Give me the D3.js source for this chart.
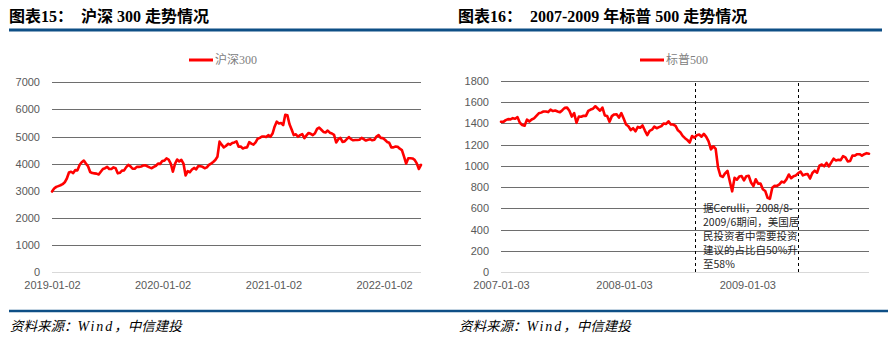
<!DOCTYPE html>
<html><head><meta charset="utf-8">
<script src="https://cdn.jsdelivr.net/npm/d3@7/dist/d3.min.js"></script>
<style>body{margin:0;background:#fff} svg{display:block}</style>
</head><body>
<svg id="c" width="893" height="343"></svg>
<script>
// ---------- DATA ----------
// 沪深300, weekly closes starting 2019-01-02
const csiStart = "2019-01-02";
const csiValues = [
  // 2019
  2970, 3080, 3140, 3170, 3200,
  3240, 3310, 3450, 3670,
  3700, 3650, 3760, 3750,
  3950, 4050, 4110, 4000,
  3900, 3690, 3650, 3640, 3630,
  3600, 3700, 3800, 3830,
  3880, 3800, 3800, 3860, 3830,
  3640, 3660, 3740, 3750,
  3870, 3950, 3900, 3810,
  3810, 3880, 3880, 3890, 3930,
  3940, 3900, 3860, 3830,
  3880, 3920, 4000, 3990,
  // 2020
  4096, 4110, 4190, 4150, 4003,
  3700, 3990, 4150, 4080,
  4140, 4000, 3560, 3720,
  3680, 3780, 3840, 3790, 3910,
  3900, 3880, 3830, 3860,
  3950, 4000, 4060, 4130,
  4250, 4810, 4700, 4600, 4650,
  4730, 4700, 4760, 4780,
  4820, 4620, 4630, 4560, 4590,
  4600, 4790, 4740, 4700,
  4780, 4920, 4950, 5000,
  5000, 4980, 5050, 4990, 5110,
  // 2021
  5370, 5550, 5480, 5500,
  5420, 5800, 5780, 5450,
  5260, 5050, 5080, 4990, 5050,
  5090, 4940, 5040, 5130,
  5100, 5050, 5120, 5280,
  5330, 5250, 5170, 5150, 5220,
  5140, 5110, 5060, 4780,
  4900, 4950, 4800, 4820,
  4900, 4980, 4900, 4860, 4870,
  4870, 4880, 4950, 4900,
  4850, 4880, 4900, 4860,
  4880, 5000, 5050, 4950, 4940,
  // 2022
  4880, 4800, 4770, 4600,
  4600, 4630, 4620, 4550,
  4500, 4260, 4000, 4200, 4200,
  4190, 4140, 4010, 3800,
  3950
];
const csiXTicks = ["2019-01-02", "2020-01-02", "2021-01-02", "2022-01-02"];
const csiYTicks = [0, 1000, 2000, 3000, 4000, 5000, 6000, 7000];

// 标普500, weekly closes starting 2007-01-03
const spxStart = "2007-01-03";
const spxValues = [
  // 2007
  1416, 1415, 1431, 1441, 1438,
  1450, 1444, 1459, 1407,
  1385, 1378, 1436, 1418,
  1437, 1448, 1472, 1495,
  1502, 1512, 1513, 1507, 1530,
  1517, 1522, 1513, 1505,
  1525, 1547, 1549, 1519,
  1465, 1497, 1406, 1464, 1463,
  1473, 1471, 1518, 1531,
  1539, 1562, 1541, 1520, 1549,
  1475, 1470, 1417, 1469,
  1485, 1486, 1455, 1497,
  // 2008
  1447, 1390, 1374, 1338, 1355,
  1326, 1367, 1360, 1381,
  1333, 1290, 1330, 1341,
  1370, 1355, 1365, 1375, 1400,
  1395, 1420, 1390, 1390,
  1377, 1335, 1317, 1283,
  1261, 1244, 1220, 1282, 1267,
  1289, 1295, 1275, 1301,
  1274, 1232, 1156, 1185,
  1161, 985, 907, 896, 930,
  953, 853, 760, 887,
  870, 899, 904, 863, 903,
  // 2009
  907, 843, 810, 874,
  833, 833, 780, 764,
  700, 690, 794, 813,
  811, 826, 852, 843, 873,
  919, 884, 903, 910,
  932, 945, 910, 920,
  923, 881, 933, 955, 936,
  1002, 1013, 996, 1028,
  995, 1033, 1068, 1051, 1057,
  1054, 1092, 1081, 1042,
  1046, 1098, 1096, 1110,
  1110, 1096, 1110, 1120, 1115
];
const spxXTicks = ["2007-01-03", "2008-01-03", "2009-01-03"];
const spxYTicks = [0, 200, 400, 600, 800, 1000, 1200, 1400, 1600, 1800];
const spxMarkers = ["2008-08-01", "2009-06-01"];
const noteLines = ["据Cerulli，2008/8-", "2009/6期间，美国居", "民投资者中需要投资", "建议的占比自50%升", "至58%"];

const titles = ["图表15：  沪深 300 走势情况", "图表16：  2007-2009 年标普 500 走势情况"];
const legends = ["沪深300", "标普500"];
const sourceParts = ["资料来源：", "Wind", "，中信建投"];

// ---------- DRAW ----------
const svg = d3.select("#c");
const parse = d3.utcParse("%Y-%m-%d");
const fmt = d3.utcFormat("%Y-%m-%d");
const RED = "#ff0000";
const BLUE = "#0e4f86";

function toSeries(start, values) {
  const s = parse(start);
  return values.map((v, i) => ({ date: d3.utcDay.offset(s, 7 * i), v }));
}

function chart(o) {
  const data = toSeries(o.start, o.values);
  const x = d3.scaleUtc().domain(d3.extent(data, d => d.date)).range([o.x0, o.x1]);
  const y = d3.scaleLinear().domain([0, d3.max(o.yTicks)]).range([o.yBottom, o.yTop]);
  const g = svg.append("g");

  // gridlines
  g.selectAll("line.grid").data(o.yTicks).join("line")
    .attr("x1", o.x0).attr("x2", o.x1)
    .attr("y1", d => Math.round(y(d)) + 0.5).attr("y2", d => Math.round(y(d)) + 0.5)
    .attr("stroke", d => d === 0 ? "#d9d9d9" : "#6e6e6e").attr("stroke-width", 1);

  // y axis
  const ya = g.append("g").attr("transform", `translate(${o.x0},0)`)
    .call(d3.axisLeft(y).tickValues(o.yTicks).tickSize(0).tickPadding(12).tickFormat(d3.format("d")));
  ya.select(".domain").remove();
  ya.selectAll("text").attr("fill", "#595959").style("font-family", "Liberation Sans, Arial, sans-serif").style("font-size", "11px");

  // x axis
  const xa = g.append("g").attr("transform", `translate(0,${o.yBottom})`)
    .call(d3.axisBottom(x).tickValues(o.xTicks.map(parse)).tickSize(0).tickPadding(9).tickFormat(fmt));
  xa.select(".domain").remove();
  xa.selectAll("text").attr("fill", "#595959").style("font-family", "Liberation Sans, Arial, sans-serif").style("font-size", "11px");

  // markers
  if (o.markers) {
    g.selectAll("line.mk").data(o.markers.map(parse)).join("line")
      .attr("x1", d => Math.round(x(d)) + 0.5).attr("x2", d => Math.round(x(d)) + 0.5)
      .attr("y1", o.markerTop).attr("y2", o.yBottom)
      .attr("stroke", "#000").attr("stroke-width", 1).attr("stroke-dasharray", "3,3");
  }

  // line
  g.append("path").datum(data)
    .attr("fill", "none").attr("stroke", RED).attr("stroke-width", 2.6)
    .attr("stroke-linejoin", "round").attr("stroke-linecap", "round")
    .attr("d", d3.line().x(d => x(d.date)).y(d => y(d.v)));

  // legend
  g.append("line").attr("x1", o.legX).attr("x2", o.legX + 24).attr("y1", 60).attr("y2", 60)
    .attr("stroke", RED).attr("stroke-width", 3);
  g.append("text").attr("x", o.legX + 26).attr("y", 60).attr("dy", "0.35em")
    .attr("fill", "#808080").style("font-family", "Liberation Serif, Noto Sans CJK SC, serif").style("font-size", "12px")
    .text(o.legend);

  // title
  svg.append("text").attr("x", o.titleX).attr("y", 21.5)
    .attr("fill", "#000").style("font-family", "Liberation Serif, Noto Sans CJK SC, serif")
    .style("font-size", "16px").style("font-weight", "bold").style("white-space", "pre")
    .attr("xml:space", "preserve").text(o.title);

  // source
  const st = svg.append("text").attr("x", o.titleX + 1).attr("y", 331)
    .attr("fill", "#000").style("font-size", "13.5px").style("font-style", "italic");
  st.append("tspan").style("font-family", "Noto Sans CJK SC, sans-serif").text(sourceParts[0]);
  st.append("tspan").style("font-family", "Liberation Serif, serif").style("letter-spacing", "2px").style("font-size", "14px").text(sourceParts[1]);
  st.append("tspan").style("font-family", "Noto Sans CJK SC, sans-serif").text(sourceParts[2]);

  return { x, y, g };
}

chart({ start: csiStart, values: csiValues, xTicks: csiXTicks, yTicks: csiYTicks,
  x0: 52, x1: 421, yTop: 82.3, yBottom: 272, legX: 189, legend: legends[0], title: titles[0], titleX: 9 });

const r = chart({ start: spxStart, values: spxValues, xTicks: spxXTicks, yTicks: spxYTicks,
  x0: 501, x1: 869, yTop: 81, yBottom: 272, legX: 640, legend: legends[1], title: titles[1], titleX: 458,
  markers: spxMarkers, markerTop: 83 });

// annotation
r.g.append("text").attr("fill", "#262626")
  .style("font-family", "Noto Sans CJK SC, sans-serif").style("font-size", "10.5px")
  .selectAll("tspan").data(noteLines).join("tspan")
  .attr("x", 703).attr("y", (d, i) => 212 + i * 14.1).text(d => d);

// rules
svg.append("line").attr("x1", 9).attr("x2", 882).attr("y1", 30).attr("y2", 30)
  .attr("stroke", BLUE).attr("stroke-width", 3);
svg.append("line").attr("x1", 9).attr("x2", 888).attr("y1", 311).attr("y2", 311)
  .attr("stroke", BLUE).attr("stroke-width", 2.5);
</script>
</body></html>
